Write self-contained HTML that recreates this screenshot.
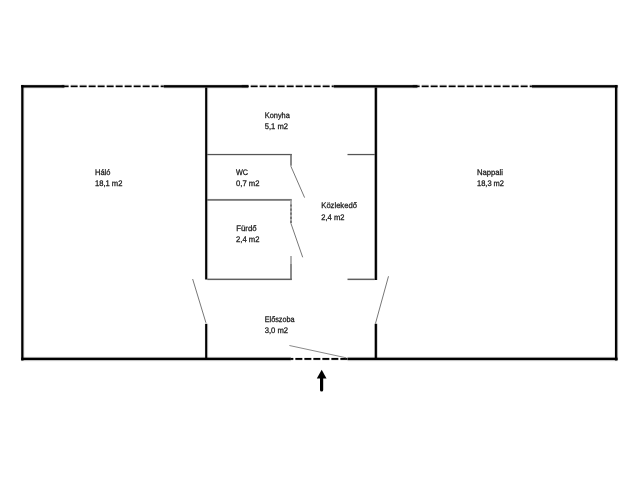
<!DOCTYPE html>
<html><head><meta charset="utf-8">
<style>
html,body{margin:0;padding:0;background:#fff;width:640px;height:480px;overflow:hidden}
svg{display:block;filter:grayscale(1)}
text{text-rendering:geometricPrecision;font-family:"Liberation Sans",sans-serif;font-size:8px;fill:#1a1a1a;stroke:#1a1a1a;stroke-width:0.28px}
</style></head>
<body>
<svg width="640" height="480" viewBox="0 0 640 480">
<g fill="#000">
<rect x="21.2" y="84" width="43.2" height="1" fill-opacity="0.067"/>
<rect x="21.2" y="85" width="43.2" height="1" fill-opacity="0.867"/>
<rect x="21.2" y="86" width="43.2" height="1" fill-opacity="1.0"/>
<rect x="21.2" y="87" width="43.2" height="1" fill-opacity="0.6"/>
<rect x="21.2" y="88" width="43.2" height="1" fill-opacity="0.059"/>
<rect x="163.75" y="84" width="84.65" height="1" fill-opacity="0.067"/>
<rect x="163.75" y="85" width="84.65" height="1" fill-opacity="0.867"/>
<rect x="163.75" y="86" width="84.65" height="1" fill-opacity="1.0"/>
<rect x="163.75" y="87" width="84.65" height="1" fill-opacity="0.6"/>
<rect x="163.75" y="88" width="84.65" height="1" fill-opacity="0.059"/>
<rect x="333.75" y="84" width="83.75" height="1" fill-opacity="0.067"/>
<rect x="333.75" y="85" width="83.75" height="1" fill-opacity="0.867"/>
<rect x="333.75" y="86" width="83.75" height="1" fill-opacity="1.0"/>
<rect x="333.75" y="87" width="83.75" height="1" fill-opacity="0.6"/>
<rect x="333.75" y="88" width="83.75" height="1" fill-opacity="0.059"/>
<rect x="531.9" y="84" width="85.7" height="1" fill-opacity="0.067"/>
<rect x="531.9" y="85" width="85.7" height="1" fill-opacity="0.867"/>
<rect x="531.9" y="86" width="85.7" height="1" fill-opacity="1.0"/>
<rect x="531.9" y="87" width="85.7" height="1" fill-opacity="0.6"/>
<rect x="531.9" y="88" width="85.7" height="1" fill-opacity="0.059"/>
<rect x="21.2" y="356" width="269.7" height="1" fill-opacity="0.027"/>
<rect x="21.2" y="357" width="269.7" height="1" fill-opacity="0.4"/>
<rect x="21.2" y="358" width="269.7" height="1" fill-opacity="1.0"/>
<rect x="21.2" y="359" width="269.7" height="1" fill-opacity="1.0"/>
<rect x="21.2" y="360" width="269.7" height="1" fill-opacity="0.235"/>
<rect x="21.2" y="361" width="269.7" height="1" fill-opacity="0.027"/>
<rect x="347.5" y="356" width="270.1" height="1" fill-opacity="0.027"/>
<rect x="347.5" y="357" width="270.1" height="1" fill-opacity="0.4"/>
<rect x="347.5" y="358" width="270.1" height="1" fill-opacity="1.0"/>
<rect x="347.5" y="359" width="270.1" height="1" fill-opacity="1.0"/>
<rect x="347.5" y="360" width="270.1" height="1" fill-opacity="0.235"/>
<rect x="347.5" y="361" width="270.1" height="1" fill-opacity="0.027"/>
<rect x="20" y="85" width="1" height="275.5" fill-opacity="0.027"/>
<rect x="21" y="85" width="1" height="275.5" fill-opacity="0.804"/>
<rect x="22" y="85" width="1" height="275.5" fill-opacity="1.0"/>
<rect x="23" y="85" width="1" height="275.5" fill-opacity="0.529"/>
<rect x="24" y="85" width="1" height="275.5" fill-opacity="0.051"/>
<rect x="614" y="85" width="1" height="275.5" fill-opacity="0.078"/>
<rect x="615" y="85" width="1" height="275.5" fill-opacity="1.0"/>
<rect x="616" y="85" width="1" height="275.5" fill-opacity="0.961"/>
<rect x="617" y="85" width="1" height="275.5" fill-opacity="0.412"/>
<rect x="618" y="85" width="1" height="275.5" fill-opacity="0.027"/>
<rect x="61.65" y="84" width="7.0" height="1" fill-opacity="0.067"/>
<rect x="61.65" y="85" width="7.0" height="1" fill-opacity="0.533"/>
<rect x="61.65" y="86" width="7.0" height="1" fill-opacity="1.0"/>
<rect x="61.65" y="87" width="7.0" height="1" fill-opacity="0.2"/>
<rect x="70.65" y="84" width="7.0" height="1" fill-opacity="0.067"/>
<rect x="70.65" y="85" width="7.0" height="1" fill-opacity="0.533"/>
<rect x="70.65" y="86" width="7.0" height="1" fill-opacity="1.0"/>
<rect x="70.65" y="87" width="7.0" height="1" fill-opacity="0.2"/>
<rect x="79.65" y="84" width="7.0" height="1" fill-opacity="0.067"/>
<rect x="79.65" y="85" width="7.0" height="1" fill-opacity="0.533"/>
<rect x="79.65" y="86" width="7.0" height="1" fill-opacity="1.0"/>
<rect x="79.65" y="87" width="7.0" height="1" fill-opacity="0.2"/>
<rect x="88.65" y="84" width="7.0" height="1" fill-opacity="0.067"/>
<rect x="88.65" y="85" width="7.0" height="1" fill-opacity="0.533"/>
<rect x="88.65" y="86" width="7.0" height="1" fill-opacity="1.0"/>
<rect x="88.65" y="87" width="7.0" height="1" fill-opacity="0.2"/>
<rect x="97.65" y="84" width="7.0" height="1" fill-opacity="0.067"/>
<rect x="97.65" y="85" width="7.0" height="1" fill-opacity="0.533"/>
<rect x="97.65" y="86" width="7.0" height="1" fill-opacity="1.0"/>
<rect x="97.65" y="87" width="7.0" height="1" fill-opacity="0.2"/>
<rect x="106.65" y="84" width="7.0" height="1" fill-opacity="0.067"/>
<rect x="106.65" y="85" width="7.0" height="1" fill-opacity="0.533"/>
<rect x="106.65" y="86" width="7.0" height="1" fill-opacity="1.0"/>
<rect x="106.65" y="87" width="7.0" height="1" fill-opacity="0.2"/>
<rect x="115.65" y="84" width="7.0" height="1" fill-opacity="0.067"/>
<rect x="115.65" y="85" width="7.0" height="1" fill-opacity="0.533"/>
<rect x="115.65" y="86" width="7.0" height="1" fill-opacity="1.0"/>
<rect x="115.65" y="87" width="7.0" height="1" fill-opacity="0.2"/>
<rect x="124.65" y="84" width="7.0" height="1" fill-opacity="0.067"/>
<rect x="124.65" y="85" width="7.0" height="1" fill-opacity="0.533"/>
<rect x="124.65" y="86" width="7.0" height="1" fill-opacity="1.0"/>
<rect x="124.65" y="87" width="7.0" height="1" fill-opacity="0.2"/>
<rect x="133.65" y="84" width="7.0" height="1" fill-opacity="0.067"/>
<rect x="133.65" y="85" width="7.0" height="1" fill-opacity="0.533"/>
<rect x="133.65" y="86" width="7.0" height="1" fill-opacity="1.0"/>
<rect x="133.65" y="87" width="7.0" height="1" fill-opacity="0.2"/>
<rect x="142.65" y="84" width="7.0" height="1" fill-opacity="0.067"/>
<rect x="142.65" y="85" width="7.0" height="1" fill-opacity="0.533"/>
<rect x="142.65" y="86" width="7.0" height="1" fill-opacity="1.0"/>
<rect x="142.65" y="87" width="7.0" height="1" fill-opacity="0.2"/>
<rect x="151.65" y="84" width="7.0" height="1" fill-opacity="0.067"/>
<rect x="151.65" y="85" width="7.0" height="1" fill-opacity="0.533"/>
<rect x="151.65" y="86" width="7.0" height="1" fill-opacity="1.0"/>
<rect x="151.65" y="87" width="7.0" height="1" fill-opacity="0.2"/>
<rect x="160.65" y="84" width="3.1" height="1" fill-opacity="0.067"/>
<rect x="160.65" y="85" width="3.1" height="1" fill-opacity="0.533"/>
<rect x="160.65" y="86" width="3.1" height="1" fill-opacity="1.0"/>
<rect x="160.65" y="87" width="3.1" height="1" fill-opacity="0.2"/>
<rect x="241.65" y="84" width="7.0" height="1" fill-opacity="0.067"/>
<rect x="241.65" y="85" width="7.0" height="1" fill-opacity="0.533"/>
<rect x="241.65" y="86" width="7.0" height="1" fill-opacity="1.0"/>
<rect x="241.65" y="87" width="7.0" height="1" fill-opacity="0.2"/>
<rect x="250.65" y="84" width="7.0" height="1" fill-opacity="0.067"/>
<rect x="250.65" y="85" width="7.0" height="1" fill-opacity="0.533"/>
<rect x="250.65" y="86" width="7.0" height="1" fill-opacity="1.0"/>
<rect x="250.65" y="87" width="7.0" height="1" fill-opacity="0.2"/>
<rect x="259.65" y="84" width="7.0" height="1" fill-opacity="0.067"/>
<rect x="259.65" y="85" width="7.0" height="1" fill-opacity="0.533"/>
<rect x="259.65" y="86" width="7.0" height="1" fill-opacity="1.0"/>
<rect x="259.65" y="87" width="7.0" height="1" fill-opacity="0.2"/>
<rect x="268.65" y="84" width="7.0" height="1" fill-opacity="0.067"/>
<rect x="268.65" y="85" width="7.0" height="1" fill-opacity="0.533"/>
<rect x="268.65" y="86" width="7.0" height="1" fill-opacity="1.0"/>
<rect x="268.65" y="87" width="7.0" height="1" fill-opacity="0.2"/>
<rect x="277.65" y="84" width="7.0" height="1" fill-opacity="0.067"/>
<rect x="277.65" y="85" width="7.0" height="1" fill-opacity="0.533"/>
<rect x="277.65" y="86" width="7.0" height="1" fill-opacity="1.0"/>
<rect x="277.65" y="87" width="7.0" height="1" fill-opacity="0.2"/>
<rect x="286.65" y="84" width="7.0" height="1" fill-opacity="0.067"/>
<rect x="286.65" y="85" width="7.0" height="1" fill-opacity="0.533"/>
<rect x="286.65" y="86" width="7.0" height="1" fill-opacity="1.0"/>
<rect x="286.65" y="87" width="7.0" height="1" fill-opacity="0.2"/>
<rect x="295.65" y="84" width="7.0" height="1" fill-opacity="0.067"/>
<rect x="295.65" y="85" width="7.0" height="1" fill-opacity="0.533"/>
<rect x="295.65" y="86" width="7.0" height="1" fill-opacity="1.0"/>
<rect x="295.65" y="87" width="7.0" height="1" fill-opacity="0.2"/>
<rect x="304.65" y="84" width="7.0" height="1" fill-opacity="0.067"/>
<rect x="304.65" y="85" width="7.0" height="1" fill-opacity="0.533"/>
<rect x="304.65" y="86" width="7.0" height="1" fill-opacity="1.0"/>
<rect x="304.65" y="87" width="7.0" height="1" fill-opacity="0.2"/>
<rect x="313.65" y="84" width="7.0" height="1" fill-opacity="0.067"/>
<rect x="313.65" y="85" width="7.0" height="1" fill-opacity="0.533"/>
<rect x="313.65" y="86" width="7.0" height="1" fill-opacity="1.0"/>
<rect x="313.65" y="87" width="7.0" height="1" fill-opacity="0.2"/>
<rect x="322.65" y="84" width="7.0" height="1" fill-opacity="0.067"/>
<rect x="322.65" y="85" width="7.0" height="1" fill-opacity="0.533"/>
<rect x="322.65" y="86" width="7.0" height="1" fill-opacity="1.0"/>
<rect x="322.65" y="87" width="7.0" height="1" fill-opacity="0.2"/>
<rect x="331.65" y="84" width="2.1" height="1" fill-opacity="0.067"/>
<rect x="331.65" y="85" width="2.1" height="1" fill-opacity="0.533"/>
<rect x="331.65" y="86" width="2.1" height="1" fill-opacity="1.0"/>
<rect x="331.65" y="87" width="2.1" height="1" fill-opacity="0.2"/>
<rect x="412.65" y="84" width="7.0" height="1" fill-opacity="0.067"/>
<rect x="412.65" y="85" width="7.0" height="1" fill-opacity="0.533"/>
<rect x="412.65" y="86" width="7.0" height="1" fill-opacity="1.0"/>
<rect x="412.65" y="87" width="7.0" height="1" fill-opacity="0.2"/>
<rect x="421.65" y="84" width="7.0" height="1" fill-opacity="0.067"/>
<rect x="421.65" y="85" width="7.0" height="1" fill-opacity="0.533"/>
<rect x="421.65" y="86" width="7.0" height="1" fill-opacity="1.0"/>
<rect x="421.65" y="87" width="7.0" height="1" fill-opacity="0.2"/>
<rect x="430.65" y="84" width="7.0" height="1" fill-opacity="0.067"/>
<rect x="430.65" y="85" width="7.0" height="1" fill-opacity="0.533"/>
<rect x="430.65" y="86" width="7.0" height="1" fill-opacity="1.0"/>
<rect x="430.65" y="87" width="7.0" height="1" fill-opacity="0.2"/>
<rect x="439.65" y="84" width="7.0" height="1" fill-opacity="0.067"/>
<rect x="439.65" y="85" width="7.0" height="1" fill-opacity="0.533"/>
<rect x="439.65" y="86" width="7.0" height="1" fill-opacity="1.0"/>
<rect x="439.65" y="87" width="7.0" height="1" fill-opacity="0.2"/>
<rect x="448.65" y="84" width="7.0" height="1" fill-opacity="0.067"/>
<rect x="448.65" y="85" width="7.0" height="1" fill-opacity="0.533"/>
<rect x="448.65" y="86" width="7.0" height="1" fill-opacity="1.0"/>
<rect x="448.65" y="87" width="7.0" height="1" fill-opacity="0.2"/>
<rect x="457.65" y="84" width="7.0" height="1" fill-opacity="0.067"/>
<rect x="457.65" y="85" width="7.0" height="1" fill-opacity="0.533"/>
<rect x="457.65" y="86" width="7.0" height="1" fill-opacity="1.0"/>
<rect x="457.65" y="87" width="7.0" height="1" fill-opacity="0.2"/>
<rect x="466.65" y="84" width="7.0" height="1" fill-opacity="0.067"/>
<rect x="466.65" y="85" width="7.0" height="1" fill-opacity="0.533"/>
<rect x="466.65" y="86" width="7.0" height="1" fill-opacity="1.0"/>
<rect x="466.65" y="87" width="7.0" height="1" fill-opacity="0.2"/>
<rect x="475.65" y="84" width="7.0" height="1" fill-opacity="0.067"/>
<rect x="475.65" y="85" width="7.0" height="1" fill-opacity="0.533"/>
<rect x="475.65" y="86" width="7.0" height="1" fill-opacity="1.0"/>
<rect x="475.65" y="87" width="7.0" height="1" fill-opacity="0.2"/>
<rect x="484.65" y="84" width="7.0" height="1" fill-opacity="0.067"/>
<rect x="484.65" y="85" width="7.0" height="1" fill-opacity="0.533"/>
<rect x="484.65" y="86" width="7.0" height="1" fill-opacity="1.0"/>
<rect x="484.65" y="87" width="7.0" height="1" fill-opacity="0.2"/>
<rect x="493.65" y="84" width="7.0" height="1" fill-opacity="0.067"/>
<rect x="493.65" y="85" width="7.0" height="1" fill-opacity="0.533"/>
<rect x="493.65" y="86" width="7.0" height="1" fill-opacity="1.0"/>
<rect x="493.65" y="87" width="7.0" height="1" fill-opacity="0.2"/>
<rect x="502.65" y="84" width="7.0" height="1" fill-opacity="0.067"/>
<rect x="502.65" y="85" width="7.0" height="1" fill-opacity="0.533"/>
<rect x="502.65" y="86" width="7.0" height="1" fill-opacity="1.0"/>
<rect x="502.65" y="87" width="7.0" height="1" fill-opacity="0.2"/>
<rect x="511.65" y="84" width="7.0" height="1" fill-opacity="0.067"/>
<rect x="511.65" y="85" width="7.0" height="1" fill-opacity="0.533"/>
<rect x="511.65" y="86" width="7.0" height="1" fill-opacity="1.0"/>
<rect x="511.65" y="87" width="7.0" height="1" fill-opacity="0.2"/>
<rect x="520.65" y="84" width="7.0" height="1" fill-opacity="0.067"/>
<rect x="520.65" y="85" width="7.0" height="1" fill-opacity="0.533"/>
<rect x="520.65" y="86" width="7.0" height="1" fill-opacity="1.0"/>
<rect x="520.65" y="87" width="7.0" height="1" fill-opacity="0.2"/>
<rect x="529.65" y="84" width="2.25" height="1" fill-opacity="0.067"/>
<rect x="529.65" y="85" width="2.25" height="1" fill-opacity="0.533"/>
<rect x="529.65" y="86" width="2.25" height="1" fill-opacity="1.0"/>
<rect x="529.65" y="87" width="2.25" height="1" fill-opacity="0.2"/>
<rect x="290.9" y="357" width="2.45" height="1" fill-opacity="0.078"/>
<rect x="290.9" y="358" width="2.45" height="1" fill-opacity="1.0"/>
<rect x="290.9" y="359" width="2.45" height="1" fill-opacity="0.882"/>
<rect x="290.9" y="360" width="2.45" height="1" fill-opacity="0.059"/>
<rect x="295.35" y="357" width="7.0" height="1" fill-opacity="0.078"/>
<rect x="295.35" y="358" width="7.0" height="1" fill-opacity="1.0"/>
<rect x="295.35" y="359" width="7.0" height="1" fill-opacity="0.882"/>
<rect x="295.35" y="360" width="7.0" height="1" fill-opacity="0.059"/>
<rect x="304.35" y="357" width="7.0" height="1" fill-opacity="0.078"/>
<rect x="304.35" y="358" width="7.0" height="1" fill-opacity="1.0"/>
<rect x="304.35" y="359" width="7.0" height="1" fill-opacity="0.882"/>
<rect x="304.35" y="360" width="7.0" height="1" fill-opacity="0.059"/>
<rect x="313.35" y="357" width="7.0" height="1" fill-opacity="0.078"/>
<rect x="313.35" y="358" width="7.0" height="1" fill-opacity="1.0"/>
<rect x="313.35" y="359" width="7.0" height="1" fill-opacity="0.882"/>
<rect x="313.35" y="360" width="7.0" height="1" fill-opacity="0.059"/>
<rect x="322.35" y="357" width="7.0" height="1" fill-opacity="0.078"/>
<rect x="322.35" y="358" width="7.0" height="1" fill-opacity="1.0"/>
<rect x="322.35" y="359" width="7.0" height="1" fill-opacity="0.882"/>
<rect x="322.35" y="360" width="7.0" height="1" fill-opacity="0.059"/>
<rect x="331.35" y="357" width="7.0" height="1" fill-opacity="0.078"/>
<rect x="331.35" y="358" width="7.0" height="1" fill-opacity="1.0"/>
<rect x="331.35" y="359" width="7.0" height="1" fill-opacity="0.882"/>
<rect x="331.35" y="360" width="7.0" height="1" fill-opacity="0.059"/>
<rect x="340.35" y="357" width="7.0" height="1" fill-opacity="0.078"/>
<rect x="340.35" y="358" width="7.0" height="1" fill-opacity="1.0"/>
<rect x="340.35" y="359" width="7.0" height="1" fill-opacity="0.882"/>
<rect x="340.35" y="360" width="7.0" height="1" fill-opacity="0.059"/>
<rect x="204" y="87.5" width="1" height="192.0" fill-opacity="0.027"/>
<rect x="205" y="87.5" width="1" height="192.0" fill-opacity="0.867"/>
<rect x="206" y="87.5" width="1" height="192.0" fill-opacity="1.0"/>
<rect x="207" y="87.5" width="1" height="192.0" fill-opacity="0.333"/>
<rect x="208" y="87.5" width="1" height="192.0" fill-opacity="0.027"/>
<rect x="204" y="323.8" width="1" height="34.2" fill-opacity="0.027"/>
<rect x="205" y="323.8" width="1" height="34.2" fill-opacity="0.867"/>
<rect x="206" y="323.8" width="1" height="34.2" fill-opacity="1.0"/>
<rect x="207" y="323.8" width="1" height="34.2" fill-opacity="0.333"/>
<rect x="208" y="323.8" width="1" height="34.2" fill-opacity="0.027"/>
<rect x="374" y="87.5" width="1" height="192.5" fill-opacity="0.333"/>
<rect x="375" y="87.5" width="1" height="192.5" fill-opacity="1.0"/>
<rect x="376" y="87.5" width="1" height="192.5" fill-opacity="0.933"/>
<rect x="377" y="87.5" width="1" height="192.5" fill-opacity="0.157"/>
<rect x="374" y="323.75" width="1" height="34.25" fill-opacity="0.333"/>
<rect x="375" y="323.75" width="1" height="34.25" fill-opacity="1.0"/>
<rect x="376" y="323.75" width="1" height="34.25" fill-opacity="0.933"/>
<rect x="377" y="323.75" width="1" height="34.25" fill-opacity="0.157"/>
<rect x="207.3" y="153" width="84.5" height="1" fill-opacity="0.059"/>
<rect x="207.3" y="154" width="84.5" height="1" fill-opacity="0.667"/>
<rect x="207.3" y="155" width="84.5" height="1" fill-opacity="0.118"/>
<rect x="347.5" y="153" width="27.2" height="1" fill-opacity="0.059"/>
<rect x="347.5" y="154" width="27.2" height="1" fill-opacity="0.667"/>
<rect x="347.5" y="155" width="27.2" height="1" fill-opacity="0.118"/>
<rect x="207.3" y="198" width="84.5" height="1" fill-opacity="0.027"/>
<rect x="207.3" y="199" width="84.5" height="1" fill-opacity="0.533"/>
<rect x="207.3" y="200" width="84.5" height="1" fill-opacity="0.431"/>
<rect x="207.3" y="278" width="84.5" height="1" fill-opacity="0.255"/>
<rect x="207.3" y="279" width="84.5" height="1" fill-opacity="0.627"/>
<rect x="207.3" y="280" width="84.5" height="1" fill-opacity="0.059"/>
<rect x="347.5" y="278" width="27.2" height="1" fill-opacity="0.255"/>
<rect x="347.5" y="279" width="27.2" height="1" fill-opacity="0.627"/>
<rect x="347.5" y="280" width="27.2" height="1" fill-opacity="0.059"/>
</g>
<g stroke="#000" fill="none" stroke-linecap="butt">
  <path d="M291 154V165.8 M291 263.6V279.8" stroke="#666" stroke-width="1.5"/>
  <path d="M291 256.1V263.6" stroke="#999" stroke-width="1.5"/>
  <path d="M291 200V223.3" stroke="#999" stroke-width="1.5"/>
  <path d="M291 204.4V223.3" stroke="#666" stroke-width="1.5" stroke-dasharray="2.2 1.9"/>
  <path d="M290.8 166.1L304.6 197.6 M290.9 223.3L302.7 257.3 M192.65 279L205.95 322.8 M388.5 276.25L375.4 323.75" stroke="#777" stroke-width="1"/>
  <path d="M289.4 345.5L346.25 357.8" stroke="#8a8a8a" stroke-width="1"/>
  <path d="M321.6 377V390" stroke-width="3.2" stroke-linecap="round"/>
</g>
<path d="M321.7 369.7L316.8 378.6H326.5Z" fill="#000"/>
<g>
  <text x="95" y="174.75" textLength="15.4" lengthAdjust="spacingAndGlyphs">Háló</text>
  <text x="95" y="185.85" textLength="27.4" lengthAdjust="spacingAndGlyphs">18,1 m2</text>
  <text x="264.8" y="117.85" textLength="25" lengthAdjust="spacingAndGlyphs">Konyha</text>
  <text x="264.8" y="128.95" textLength="23.2" lengthAdjust="spacingAndGlyphs">5,1 m2</text>
  <text x="236" y="174.65" textLength="12" lengthAdjust="spacingAndGlyphs">WC</text>
  <text x="236" y="185.85" textLength="23.4" lengthAdjust="spacingAndGlyphs">0,7 m2</text>
  <text x="236.3" y="230.85" textLength="20.3" lengthAdjust="spacingAndGlyphs">Fürdő</text>
  <text x="236" y="242.35" textLength="23.4" lengthAdjust="spacingAndGlyphs">2,4 m2</text>
  <text x="321.3" y="208.15" textLength="35.6" lengthAdjust="spacingAndGlyphs">Közlekedő</text>
  <text x="321.3" y="219.65" textLength="23.1" lengthAdjust="spacingAndGlyphs">2,4 m2</text>
  <text x="477" y="174.55" textLength="26" lengthAdjust="spacingAndGlyphs">Nappali</text>
  <text x="477" y="185.85" textLength="27" lengthAdjust="spacingAndGlyphs">18,3 m2</text>
  <text x="264.7" y="321.95" textLength="30" lengthAdjust="spacingAndGlyphs">Előszoba</text>
  <text x="264.7" y="333.05" textLength="23.4" lengthAdjust="spacingAndGlyphs">3,0 m2</text>
</g>
</svg>
</body></html>
